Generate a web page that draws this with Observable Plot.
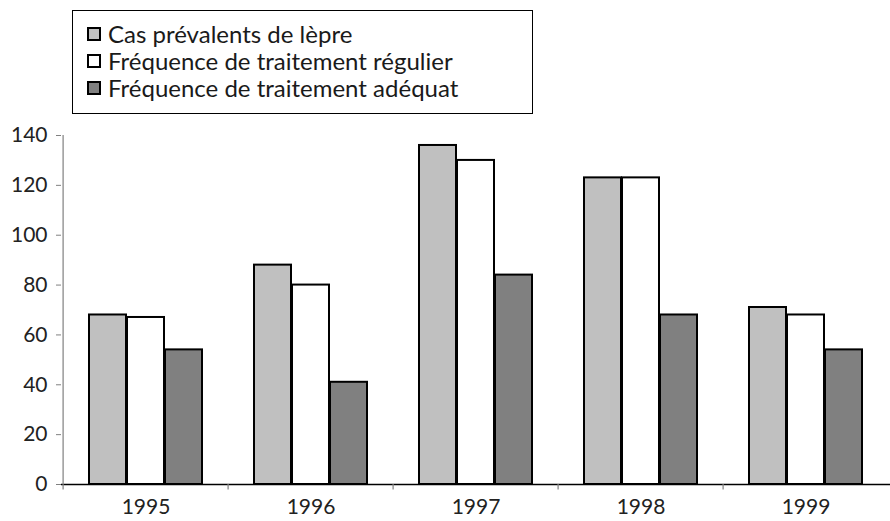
<!DOCTYPE html>
<html>
<head>
<meta charset="utf-8">
<script src="https://cdn.jsdelivr.net/npm/d3@7"></script>
<script src="https://cdn.jsdelivr.net/npm/@observablehq/plot@0.6"></script>
<style>
  body { margin: 0; background: #fff; font-family: Lato, "Open Sans", sans-serif; }
  #wrap { position: relative; width: 890px; height: 521px; }
  #legend { position: absolute; left: 72px; top: 10px; width: 461px; height: 104px;
    border: 1px solid #000; box-sizing: border-box; padding: 9px 0 0 14px; background: #fff; }
  .item { display: flex; align-items: center; height: 27px; font-size: 24px; color: #1a1a1a; white-space: nowrap; }
  .sw { width: 10px; height: 10px; border: 2px solid #000; margin-right: 7px; flex: none; }
</style>
</head>
<body>
<div id="wrap"><div id="legend"></div></div>
<script>
const years = ["1995", "1996", "1997", "1998", "1999"];
const seriesNames = ["Cas prévalents de lèpre", "Fréquence de traitement régulier", "Fréquence de traitement adéquat"];
const seriesColors = ["#c0c0c0", "#ffffff", "#808080"];
const prevalents = [68, 88, 136, 123, 71];
const regulier = [67, 80, 130, 123, 68];
const adequat = [54, 41, 84, 68, 54];
const yTicks = [0, 20, 40, 60, 80, 100, 120, 140];

const values = [prevalents, regulier, adequat];
const rows = years.flatMap((y, i) => values.map((v, s) => ({year: y, series: seriesNames[s], value: v[i]})));

const legend = document.getElementById("legend");
seriesNames.forEach((n, i) => {
  const d = document.createElement("div");
  d.className = "item";
  d.innerHTML = `<span class="sw" style="background:${seriesColors[i]}"></span><span>${n}</span>`;
  legend.appendChild(d);
});

const half = (890 - 61) / years.length / 2;
const chart = Plot.plot({
  width: 890,
  height: 521,
  marginTop: 135,
  marginBottom: 37,
  marginLeft: 61,
  marginRight: 0,
  style: {fontFamily: "Lato, 'Open Sans', sans-serif", background: "transparent"},
  x: {domain: years, paddingInner: 0.313, paddingOuter: 0.157, label: null},
  y: {domain: [0, 140], label: null},
  marks: [
    Plot.ruleY([0], {stroke: "#000", strokeWidth: 1.5}),
    Plot.ruleX([years[0]], {dx: -half, y1: 0, y2: 140, stroke: "#808080", strokeWidth: 1.2}),
    Plot.ruleX(years, {dx: -half, y1: 0, y2: -2.2, stroke: "#808080", strokeWidth: 1.2}),
    ...seriesNames.map((name, s) =>
      Plot.barY(rows.filter(r => r.series === name), {
        x: "year", y: "value", fill: seriesColors[s], stroke: "#000", strokeWidth: 2,
        insetLeft: s * 38, insetRight: (2 - s) * 38
      })
    ),
    Plot.axisY({ticks: yTicks, tickSize: 5, stroke: "#808080", tickPadding: 9, fontSize: 21, fill: "#222", label: null}),
    Plot.axisX({tickSize: 0, tickPadding: 15, fontSize: 21, fill: "#222", label: null})
  ]
});
document.getElementById("wrap").prepend(chart);
chart.style.position = "absolute";
chart.style.left = "0"; chart.style.top = "0";
</script>
</body>
</html>
